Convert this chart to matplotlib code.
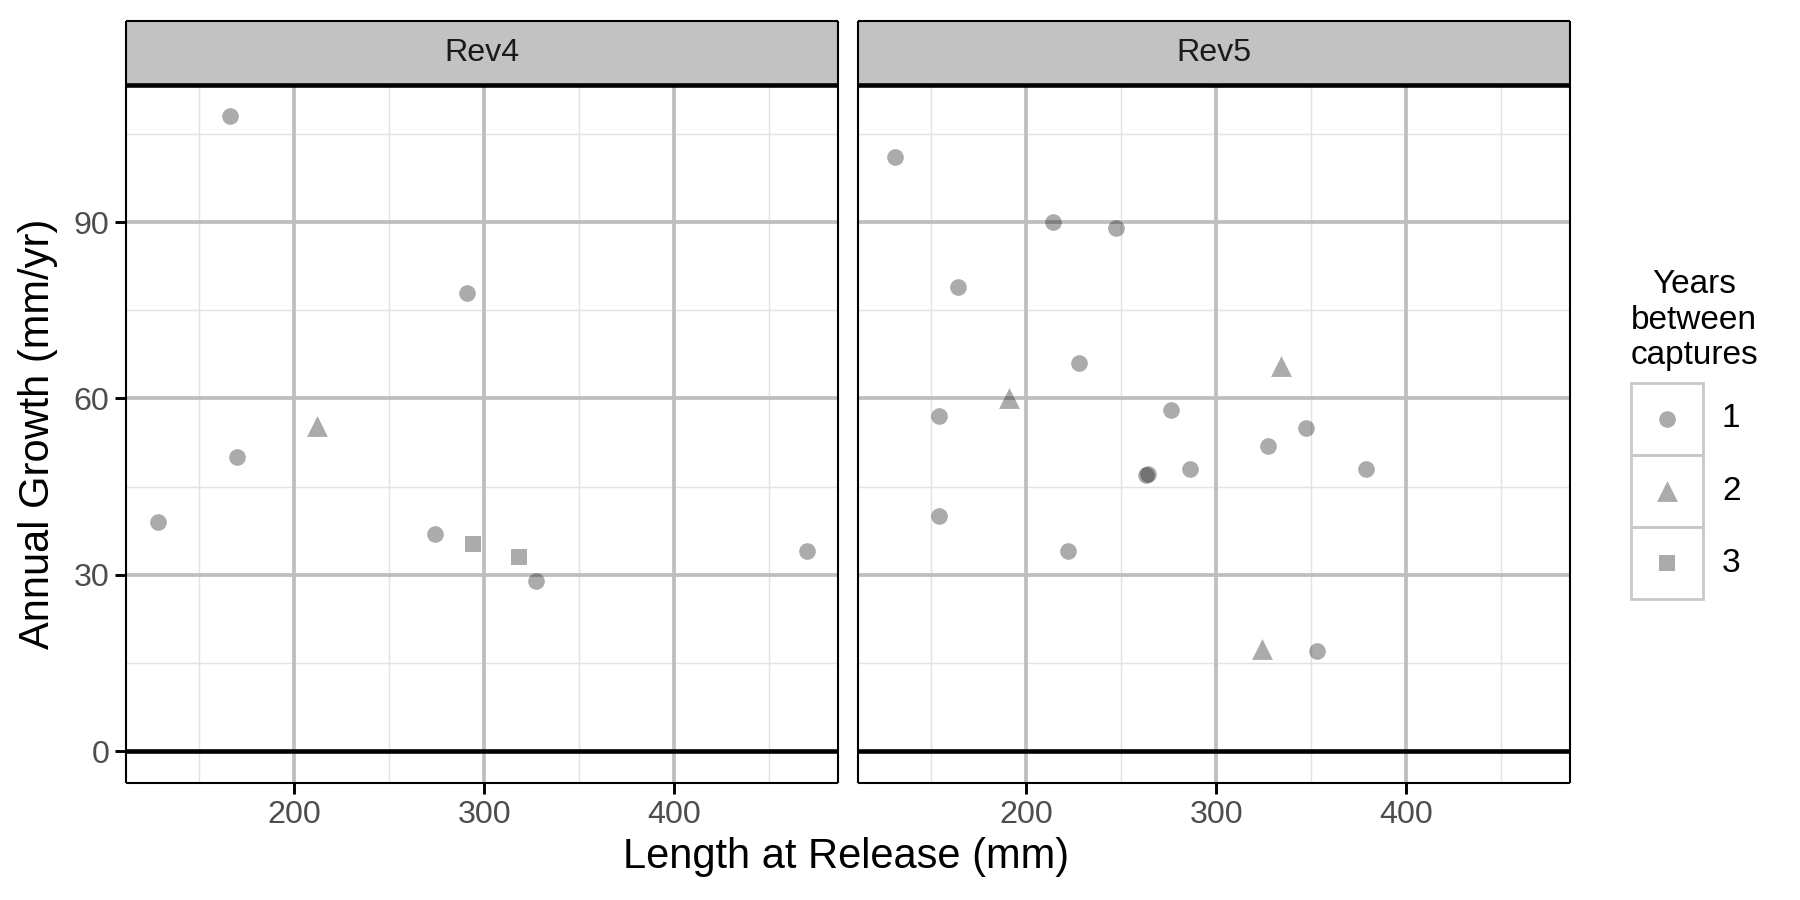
import matplotlib
matplotlib.use('Agg')
import matplotlib.pyplot as plt
from matplotlib.patches import Rectangle

plt.rcParams['font.family'] = ['Liberation Sans', 'DejaVu Sans']

# Data (length at release in mm, annual growth in mm/yr)
rev4_length = [166, 291, 212, 170, 128, 274, 294, 318, 327, 470]
rev4_growth = [108, 78, 55.4, 50, 39, 37, 35.3, 33, 29, 34]
rev4_years = [1, 1, 2, 1, 1, 1, 3, 3, 1, 1]

rev5_length = [131, 214, 247, 164, 228, 191, 334, 154, 276, 347, 327, 263, 264, 286, 379, 154, 222, 324, 353]
rev5_growth = [101, 90, 89, 79, 66, 60, 65.5, 57, 58, 55, 52, 47, 47.2, 48, 48, 40, 34, 17.4, 17]
rev5_years = [1, 1, 1, 1, 1, 2, 2, 1, 1, 1, 1, 1, 1, 1, 1, 1, 1, 2, 1]

panels = ['Rev4', 'Rev5']
year_levels = [1, 2, 3]
markers = {1: 'o', 2: '^', 3: 's'}
msizes = {1: 8, 2: 10, 3: 7.5}

pt_color = (0, 0, 0, 0.33)
major_col = '#bebebe'
minor_col = '#e3e3e3'
tick_col = '#4d4d4d'

W, H = 1800, 900
fig = plt.figure(figsize=(12, 6), dpi=150)


def fx(px):
    return px / W


def fy(py):
    return 1 - py / H


panel_left = [126.5, 858.3]
panel_w = 711.5
panel_top, panel_bot = 85, 782.5
strip_top = 21

datasets = [(rev4_length, rev4_growth, rev4_years), (rev5_length, rev5_growth, rev5_years)]

for k, (xs, ys, yrs) in enumerate(datasets):
    ax = fig.add_axes([fx(panel_left[k]), fy(panel_bot), fx(panel_w), (panel_bot - panel_top) / H])
    ax.set_xlim(111.6, 486.1)
    ax.set_ylim(-5.3, 113.3)

    # grid
    for v in [150, 250, 350, 450]:
        ax.axvline(v, color=minor_col, lw=0.7, zorder=0)
    for v in [15, 45, 75, 105]:
        ax.axhline(v, color=minor_col, lw=0.7, zorder=0)
    for v in [200, 300, 400]:
        ax.axvline(v, color=major_col, lw=1.8, zorder=0.5)
    for v in [30, 60, 90]:
        ax.axhline(v, color=major_col, lw=1.8, zorder=0.5)
    ax.axhline(0, color='black', lw=2.2, zorder=1)

    for yv in year_levels:
        px = [x for x, y in zip(xs, yrs) if y == yv]
        py = [g for g, y in zip(ys, yrs) if y == yv]
        if px:
            ax.scatter(px, py, marker=markers[yv], s=msizes[yv] ** 2, color=pt_color,
                       linewidths=0, zorder=3)

    ax.set_xticks([200, 300, 400])
    ax.set_yticks([0, 30, 60, 90])
    ax.tick_params(axis='both', length=5.3, width=1.4, color='black', labelcolor=tick_col,
                   labelsize=15.5, pad=3)
    if k == 1:
        ax.tick_params(axis='y', left=False, labelleft=False)
    for s in ax.spines.values():
        s.set_linewidth(1.0)
        s.set_color('black')
        s.set_capstyle('butt')

    # facet strip
    sax = fig.add_axes([fx(panel_left[k]), fy(panel_top), fx(panel_w), (panel_top - strip_top) / H])
    sax.set_facecolor('#c2c2c2')
    sax.set_xticks([])
    sax.set_yticks([])
    for s in sax.spines.values():
        s.set_linewidth(1.0)
        s.set_color('black')
        s.set_capstyle('butt')
    sax.spines['bottom'].set_linewidth(2.2)
    sax.text(0.5, 0.5, panels[k], ha='center', va='center', fontsize=15.5, color='#1a1a1a',
             transform=sax.transAxes)

# axis titles
fig.text(fx(846), fy(857), 'Length at Release (mm)', ha='center', va='center', fontsize=20)
fig.text(fx(38), fy(434), 'Annual Growth (mm/yr)', ha='center', va='center', rotation=90, fontsize=20)

# legend
fig.text(fx(1694), fy(320), 'Years\nbetween\ncaptures', ha='center', va='center', fontsize=16,
         linespacing=1.2, multialignment='center')
key_tops = [383, 455, 527]
for i, yv in enumerate(year_levels):
    kax = fig.add_axes([fx(1631), fy(key_tops[i] + 72), fx(72), 72 / H])
    kax.set_xlim(0, 1)
    kax.set_ylim(0, 1)
    kax.axis('off')
    kax.add_patch(Rectangle((0, 0), 1, 1, fill=False, edgecolor='#c8c8c8', lw=1.3,
                            transform=kax.transAxes, clip_on=False))
    kax.scatter([0.5], [0.5], marker=markers[yv], s=msizes[yv] ** 2, color=pt_color, linewidths=0)
    fig.text(fx(1722), fy(key_tops[i] + 36), str(yv), ha='left', va='center', fontsize=16)

fig.savefig('out.png', dpi=150)
